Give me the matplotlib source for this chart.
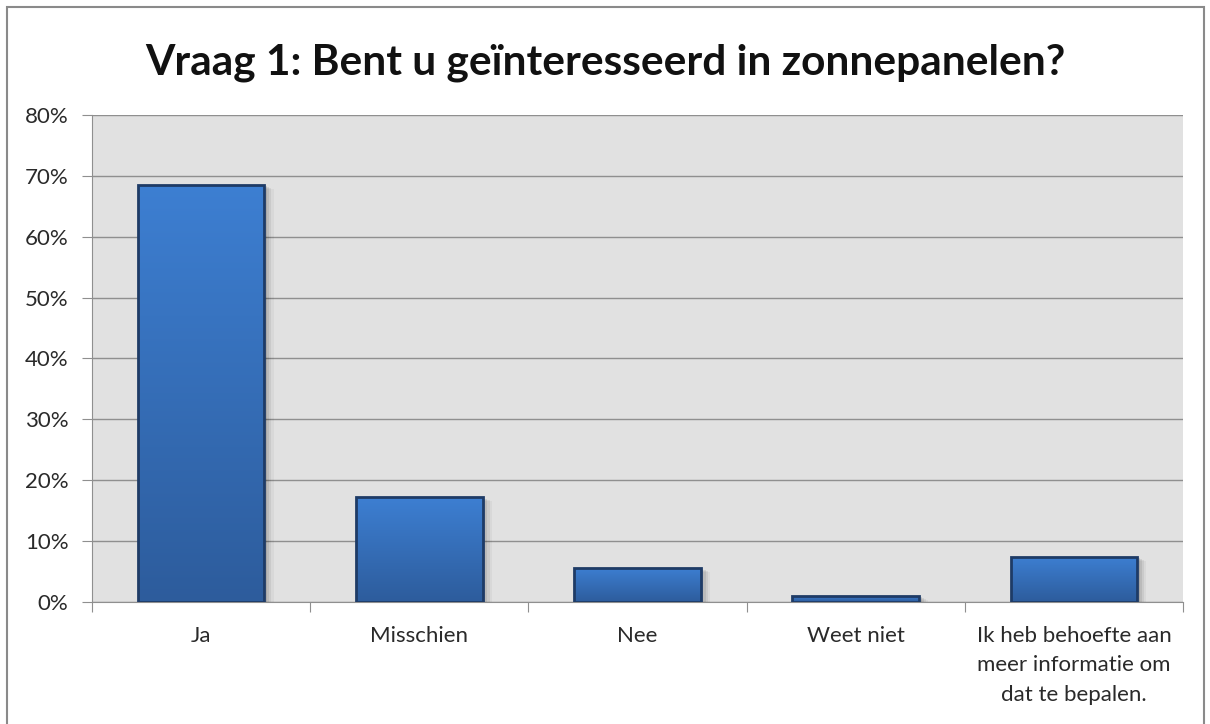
import numpy as np
import matplotlib.pyplot as plt
from matplotlib.patches import Rectangle
from matplotlib.colors import LinearSegmentedColormap
from matplotlib.ticker import FuncFormatter

categories = ["Ja", "Misschien", "Nee", "Weet niet",
              "Ik heb behoefte aan\nmeer informatie om\ndat te bepalen."]
values = [68.5, 17.2, 5.6, 1.0, 7.4]

plt.rcParams['font.family'] = ['Lato', 'DejaVu Sans']

fig = plt.figure(figsize=(12.1, 7.24), dpi=100)
ax = fig.add_axes([0.076, 0.1685, 0.9017, 0.6727])
ax.set_facecolor('#e1e1e1')

x = np.arange(len(categories))
width = 0.58

# gridlines
ax.yaxis.grid(True, color='#8f8f8f', linewidth=1)
ax.set_axisbelow(True)

cmap = LinearSegmentedColormap.from_list('bar', ['#2d5c9c', '#3d7fd2'])
grad = np.linspace(0, 1, 256).reshape(-1, 1)

for xi, v in zip(x, values):
    # soft shadow
    for k, a in enumerate([0.10, 0.08, 0.06, 0.04]):
        off = 0.012 + k * 0.010
        sh = Rectangle((xi - width / 2 + off, 0), width, v - 0.2 - k * 0.15,
                       facecolor='black', alpha=a, edgecolor='none', zorder=2)
        ax.add_patch(sh)
    im = ax.imshow(grad, cmap=cmap, aspect='auto', origin='lower',
                   extent=[xi - width / 2, xi + width / 2, 0, v], zorder=3)
    rect = Rectangle((xi - width / 2, 0), width, v, facecolor='none',
                     edgecolor='#1e3b66', linewidth=2, zorder=4)
    ax.add_patch(rect)
    im.set_clip_path(rect)

ax.set_xlim(-0.5, len(categories) - 0.5)
ax.set_ylim(0, 80)
ax.set_yticks(np.arange(0, 81, 10))
ax.yaxis.set_major_formatter(FuncFormatter(lambda v, p: f"{int(v)}%"))
ax.set_xticks(np.arange(len(categories) + 1) - 0.5, minor=False)
ax.set_xticklabels([])
ax.set_xticks(x, minor=True)
ax.set_xticklabels(categories, minor=True, fontsize=16, color='#2a2a2a',
                   linespacing=1.6)
ax.tick_params(axis='x', which='minor', length=0, pad=17)
ax.tick_params(axis='x', which='major', length=7, color='#8f8f8f', direction='out')
ax.tick_params(axis='y', length=7, color='#8f8f8f', labelsize=16,
               labelcolor='#2a2a2a', pad=10)
for s in ['top', 'right']:
    ax.spines[s].set_visible(False)
for s in ['left', 'bottom']:
    ax.spines[s].set_color('#8f8f8f')

fig.text(0.5, 0.913, "Vraag 1: Bent u geïnteresseerd in zonnepanelen?",
         ha='center', va='center', fontsize=30.5, fontweight='bold', color='#111111')

fig.patches.append(Rectangle((0.006, -0.02), 0.989, 1.01, transform=fig.transFigure,
                             facecolor='none', edgecolor='#8a8a8a', linewidth=1.5))

fig.savefig('out.png', dpi=100)
